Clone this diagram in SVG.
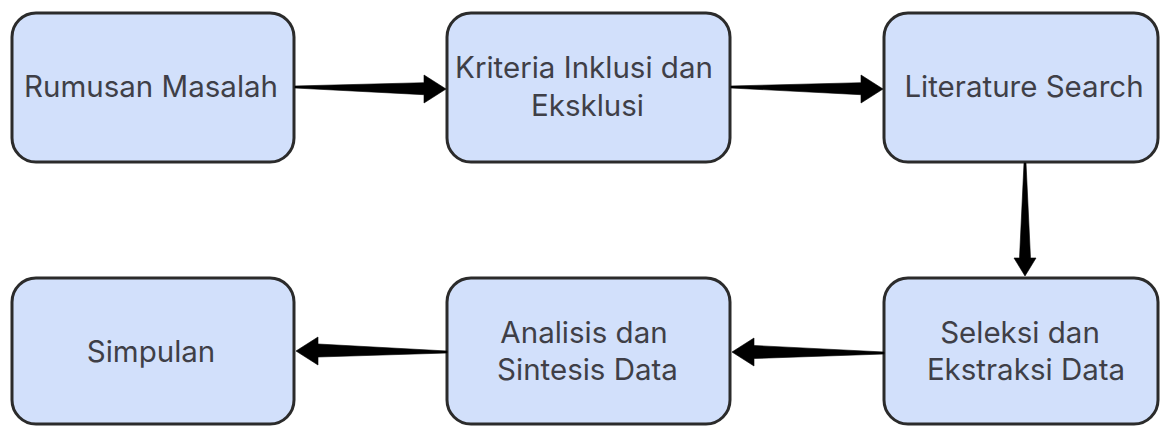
<svg xmlns="http://www.w3.org/2000/svg" width="1160" height="426" viewBox="0 0 1160 426">
  <style>
    .box { fill: #d2e0fb; stroke: #2b2b2b; stroke-width: 3; }
    .lbl { font-family: Inter, "Noto Sans", "Liberation Sans", sans-serif; font-size: 29.5px; fill: #3f3f47; text-anchor: middle; }
    .arrow { fill: #000; stroke: #000; stroke-width: 0.6; stroke-linejoin: miter; }
  </style>
  <rect width="1160" height="426" fill="#ffffff"/>

  <!-- process steps -->
  <g id="rumusan-masalah">
    <rect class="box" x="12" y="13" width="282" height="149" rx="24"/>
    <text class="lbl" x="151" y="97">Rumusan Masalah</text>
  </g>
  <g id="kriteria">
    <rect class="box" x="447" y="13" width="283" height="149" rx="24"/>
    <text class="lbl" x="584" y="78">Kriteria Inklusi dan</text>
    <text class="lbl" x="587.5" y="116">Eksklusi</text>
  </g>
  <g id="literature-search">
    <rect class="box" x="884" y="13" width="274" height="149" rx="24"/>
    <text class="lbl" x="1024" y="97">Literature Search</text>
  </g>
  <g id="seleksi">
    <rect class="box" x="884" y="278" width="274" height="146" rx="24"/>
    <text class="lbl" x="1020" y="343">Seleksi dan</text>
    <text class="lbl" x="1026" y="380">Ekstraksi Data</text>
  </g>
  <g id="analisis">
    <rect class="box" x="447" y="278" width="283" height="146" rx="24"/>
    <text class="lbl" x="584" y="343">Analisis dan</text>
    <text class="lbl" x="587.5" y="380">Sintesis Data</text>
  </g>
  <g id="simpulan">
    <rect class="box" x="12" y="278" width="282" height="146" rx="24"/>
    <text class="lbl" x="151" y="362">Simpulan</text>
  </g>

  <!-- tapered connectors -->
  <g id="connectors">
    <polygon class="arrow" points="295,86 424,82.7 424,75 446,89 424,103 424,94.7 295,88"/>
    <polygon class="arrow" points="731,86 861,82.7 861,75 883,89 861,103 861,94.7 731,88"/>
    <polygon class="arrow" points="1024,163 1019.5,258 1014,258 1025,276 1036,258 1030.5,258 1026,163"/>
    <polygon class="arrow" points="884,352 754,345.5 754,338 732,352 754,366 754,358.5 884,354"/>
    <polygon class="arrow" points="447,351 318,344 318,337 296,351 318,365 318,357 447,353"/>
  </g>
</svg>
